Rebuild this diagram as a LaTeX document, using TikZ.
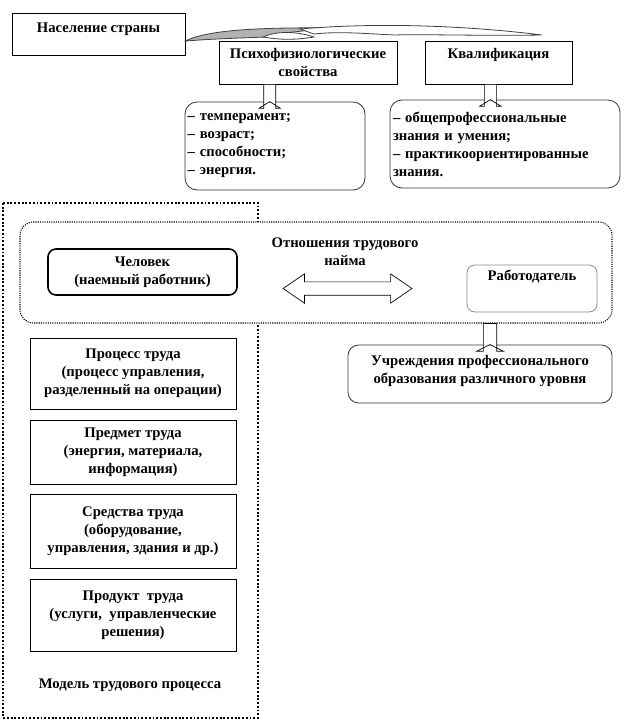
\documentclass[tikz,border=0pt]{standalone}
\usepackage{fontspec}
\setmainfont{Liberation Serif}
\usetikzlibrary{calc}

\tikzset{
  every node/.style={font=\bfseries\fontsize{11}{13.5}\selectfont, align=center},
  box/.style={draw, line width=0.6pt, inner sep=1pt},
  roundbox/.style={draw=black!80, line width=0.6pt, rounded corners=9pt, inner sep=1pt},
  listbox/.style={roundbox, align=left, text width=#1, inner xsep=2pt},
  modelframe/.style={line width=1.4pt, dash pattern=on 1.4pt off 1.4pt},
  relframe/.style={draw, fill=white, line width=0.8pt, dash pattern=on 0.8pt off 0.9pt, rounded corners=10pt},
  ribbon/.style={draw=black!75, line width=0.6pt},
}

% hollow block arrow pointing down: source, target, x shift, half shaft, half head
\newcommand{\blockdown}[5]{%
  \draw[fill=white, line width=0.5pt] let \p1=(#1), \p2=(#2) in
    (\x2+#3-#4,\y1) -- (\x2+#3+#4,\y1) -- (\x2+#3+#4,\y2+5pt) -- (\x2+#3+#5,\y2+5pt)
    -- (\x2+#3,\y2) -- (\x2+#3-#5,\y2+5pt) -- (\x2+#3-#4,\y2+5pt) -- cycle;}

\begin{document}
\begin{tikzpicture}[x=0.75pt,y=0.75pt,yscale=-1,xscale=1]
\useasboundingbox (0,0) rectangle (626,725);

%Shape: Rectangle (outer frame)
\draw [modelframe] (3,203) rectangle (258,718);

% Text Node
\node [box, minimum width=129.75pt, minimum height=31.5pt] (pop) at (98.5,34) {Население страны\\[-4pt]~};
% Text Node
\node [box, minimum width=133.5pt, minimum height=32.25pt] (psy) at (308,62.5) {Психофизиологические\\свойства};
% Text Node
\node [box, minimum width=110.25pt, minimum height=32.25pt] (qual) at (498.5,62.5) {Квалификация\\~};

%Curve Lines (shaded ribbon from pop)
\draw [ribbon, fill=black!30] (pop.east) ++(0,7) .. controls (205,31) and (250,27) .. (335,28) .. controls (300,31) and (280,33) .. (266,37) .. controls (240,38) and (210,39) .. (186,41) -- cycle;
\draw [ribbon, fill=white] (263,37) .. controls (276,31) and (296,31) .. (314,37) .. controls (296,40) and (280,40) .. (263,37) -- cycle;
\draw [ribbon, fill=white] (300,29) .. controls (380,22) and (470,26) .. (542,35) .. controls (480,36) and (420,34) .. (395,35) .. controls (370,34) and (340,31) .. (314,34) -- cycle;

% Text Node
\node [listbox=131pt, minimum width=135pt, minimum height=66pt] (traits) at (275,146)
  {– темперамент;\\– возраст;\\– способности;\\– энергия.};
% Text Node
\node [listbox=168pt, minimum width=172.5pt, minimum height=66pt] (knowl) at (505,144)
  {– общепрофессиональные\\знания и умения;\\– практикоориентированные\\знания.};

\blockdown{psy.south}{traits.north}{-4pt}{4.5pt}{8pt}
\blockdown{qual.south}{knowl.north}{-11pt}{4.5pt}{8pt}

%Shape: Rounded Rectangle (relations)
\node [relframe, minimum width=444pt, minimum height=75.75pt] (rel) at (316,272.5) {};
% Text Node
\node (hire) at (345,252) {Отношения трудового\\найма};
% Text Node
\node [roundbox, draw=black, line width=1.2pt, rounded corners=6pt, minimum width=141.75pt, minimum height=34.5pt] (man) at (142.5,272) {Человек\\(наемный работник)};
% Text Node
\node [roundbox, draw=black!45, rounded corners=6pt, minimum width=97.5pt, minimum height=35.25pt] (boss) at (532,288.5) {Работодатель\\[6pt]~};

%Shape: Double arrow
\draw [fill=white, line width=0.5pt] let \p1=(man.east), \p2=(boss.west) in
  (\x1+34pt,\y2) -- (\x1+50pt,\y2+11pt) -- (\x1+50pt,\y2+5pt) -- (\x2-57pt,\y2+5pt) -- (\x2-57pt,\y2+11pt)
  -- (\x2-41pt,\y2) -- (\x2-57pt,\y2-11pt) -- (\x2-57pt,\y2-5pt) -- (\x1+50pt,\y2-5pt) -- (\x1+50pt,\y2-11pt) -- cycle;

% Text Node
\node [roundbox, rounded corners=8pt, minimum width=198pt, minimum height=43.5pt] (inst) at (480,374)
  {Учреждения профессионального\\образования различного уровня\\[-6pt]~};
\blockdown{rel.south}{inst.north}{7.5pt}{5pt}{10pt}

% Text Node
\node [box, minimum width=154.5pt, minimum height=53.25pt] (proc) at (133,373.5) {Процесс труда\\(процесс управления,\\разделенный на операции)};
% Text Node
\node [box, minimum width=154.5pt, minimum height=48pt] (subj) at (133,452) {Предмет труда\\(энергия, материала,\\информация)};
% Text Node
\node [box, minimum width=154.5pt, minimum height=55.5pt] (means) at (133,531) {Средства труда\\(оборудование,\\управления, здания и др.)};
% Text Node
\node [box, minimum width=154.5pt, minimum height=54pt] (prod) at (133,615) {Продукт\enspace труда\\(услуги,\enspace управленческие\\решения)};
% Text Node
\node (model) at (130,685) {Модель трудового процесса};

\end{tikzpicture}
\end{document}
